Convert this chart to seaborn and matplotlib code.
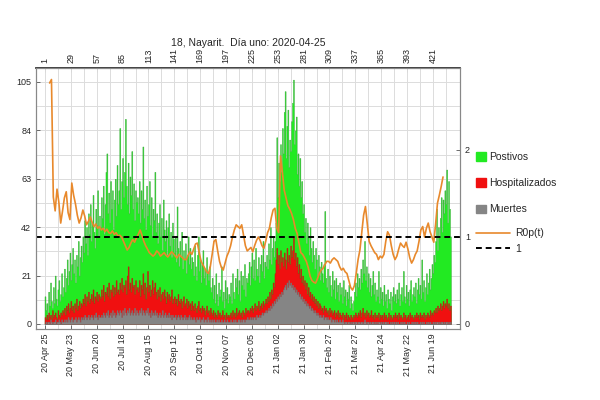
import numpy as np
import pandas as pd
import seaborn as sns
import matplotlib.pyplot as plt
from matplotlib.patches import Patch
from matplotlib.lines import Line2D

sns.set_theme(style="ticks")
plt.rcParams['font.family'] = ['Liberation Sans', 'DejaVu Sans']

title = "18, Nayarit.  Día uno: 2020-04-25"

# casos diarios (dia 1 = 2020-04-25)
positivos = [
    12, 6, 9, 4, 14, 8, 18, 10, 7, 16, 9, 21, 11, 8, 15, 19, 10, 13, 22, 12,
    16, 24, 14, 20, 28, 17, 23, 31, 19, 26, 33, 22, 28, 18, 30, 25, 36, 21, 29, 34,
    27, 38, 31, 45, 35, 42, 30, 48, 39, 52, 36, 44, 56, 40, 33, 50, 43, 58, 38, 47,
    42, 55, 46, 60, 39, 52, 66, 74, 48, 57, 44, 62, 50, 58, 41, 54, 63, 47, 69, 52,
    58, 85, 50, 62, 72, 55, 66, 89, 60, 52, 70, 48, 64, 56, 75, 50, 61, 45, 58, 53,
    55, 48, 62, 44, 58, 50, 77, 46, 54, 41, 60, 47, 52, 62, 43, 55, 38, 50, 45, 66,
    40, 48, 35, 44, 52, 38, 46, 32, 54, 41, 36, 45, 30, 42, 48, 34, 40, 29, 44, 37,
    31, 38, 27, 51, 33, 25, 36, 29, 40, 24, 32, 28, 35, 22, 30, 38, 26, 33, 24, 29,
    27, 21, 34, 25, 19, 30, 38, 23, 28, 18, 26, 32, 20, 24, 17, 29, 22, 19, 25, 16,
    14, 20, 11, 17, 9, 22, 13, 8, 18, 12, 15, 25, 10, 14, 7, 19, 11, 16, 9, 13,
    12, 18, 9, 22, 14, 11, 20, 16, 24, 13, 19, 10, 23, 17, 21, 15, 26, 12, 20, 18,
    22, 27, 17, 25, 31, 20, 28, 19, 33, 24, 21, 29, 18, 26, 30, 23, 36, 20, 27, 25,
    30, 24, 35, 28, 42, 26, 33, 38, 29, 36, 44, 81, 55, 70, 62, 78, 66, 85, 74, 92,
    101, 72, 86, 93, 68, 80, 75, 88, 96, 106, 78, 84, 90, 65, 74, 60, 72, 55, 62, 48,
    52, 40, 46, 35, 44, 38, 30, 42, 33, 27, 36, 30, 24, 33, 28, 21, 30, 25, 19, 27,
    22, 18, 26, 49, 20, 16, 24, 14, 21, 17, 12, 23, 15, 19, 11, 20, 14, 17, 10, 18,
    13, 16, 9, 19, 12, 15, 8, 14, 11, 17, 7, 12, 9, 6, 10, 14, 18, 12, 22, 16,
    20, 15, 24, 18, 28, 22, 36, 19, 25, 16, 22, 14, 20, 12, 17, 23, 13, 18, 10, 15,
    12, 23, 9, 16, 11, 14, 8, 17, 10, 13, 7, 15, 11, 9, 14, 6, 12, 16, 10, 13,
    9, 15, 11, 18, 8, 13, 16, 10, 23, 12, 9, 17, 11, 14, 8, 15, 19, 10, 13, 16,
    12, 18, 9, 15, 20, 13, 17, 11, 28, 14, 19, 10, 16, 22, 13, 18, 24, 15, 20, 26,
    22, 30, 27, 36, 50, 32, 42, 38, 46, 55, 40, 54, 48, 58, 52, 67, 44, 62, 50, 38,
]
hospitalizados = [
    3, 2, 4, 2, 5, 3, 4, 2, 6, 3, 4, 5, 3, 2, 6, 4, 3, 5, 4, 6,
    5, 7, 4, 8, 6, 9, 5, 7, 10, 6, 8, 5, 9, 7, 11, 6, 8, 10, 7, 9,
    8, 11, 9, 13, 8, 12, 10, 14, 9, 11, 13, 10, 15, 9, 12, 11, 14, 10, 13, 12,
    11, 15, 12, 17, 10, 14, 13, 16, 12, 18, 11, 15, 14, 17, 12, 16, 13, 19, 14, 15,
    13, 18, 15, 20, 14, 17, 16, 19, 13, 21, 25, 15, 18, 14, 20, 16, 17, 13, 19, 15,
    16, 14, 19, 12, 17, 15, 22, 13, 18, 11, 16, 23, 14, 17, 12, 15, 19, 13, 16, 18,
    14, 11, 15, 12, 16, 10, 13, 14, 11, 15, 12, 9, 14, 11, 13, 10, 12, 15, 9, 11,
    12, 9, 11, 8, 13, 10, 9, 11, 7, 10, 12, 8, 9, 11, 7, 10, 8, 9, 6, 10,
    8, 6, 9, 7, 5, 8, 10, 6, 7, 5, 8, 6, 7, 4, 6, 8, 5, 6, 4, 7,
    5, 4, 6, 3, 5, 4, 3, 6, 4, 5, 3, 4, 6, 3, 4, 2, 5, 3, 4, 3,
    4, 5, 3, 6, 4, 5, 3, 7, 4, 5, 6, 4, 5, 3, 6, 5, 4, 7, 5, 6,
    6, 5, 7, 6, 8, 5, 7, 9, 6, 8, 7, 10, 6, 8, 9, 7, 10, 8, 9, 11,
    9, 12, 10, 14, 11, 15, 13, 18, 16, 22, 28, 33, 26, 30, 24, 32, 27, 29, 25, 31,
    28, 24, 33, 27, 30, 26, 34, 29, 32, 38, 28, 31, 25, 29, 22, 26, 20, 24, 18, 21,
    17, 19, 15, 18, 13, 16, 12, 14, 11, 13, 10, 12, 9, 11, 8, 10, 7, 9, 8, 6,
    7, 5, 8, 6, 7, 5, 6, 4, 7, 5, 6, 4, 5, 6, 3, 5, 4, 6, 3, 5,
    4, 3, 5, 2, 4, 3, 5, 2, 4, 3, 2, 4, 3, 2, 4, 3, 5, 4, 3, 5,
    4, 6, 3, 5, 7, 4, 5, 3, 6, 4, 5, 3, 4, 6, 3, 4, 2, 5, 3, 4,
    3, 5, 2, 4, 3, 4, 2, 5, 3, 4, 2, 3, 5, 2, 4, 3, 2, 4, 3, 5,
    3, 4, 2, 5, 3, 4, 3, 2, 5, 3, 4, 2, 3, 4, 2, 5, 3, 4, 3, 2,
    4, 3, 5, 3, 4, 2, 5, 3, 4, 3, 5, 2, 4, 3, 5, 4, 3, 6, 4, 5,
    4, 6, 5, 7, 5, 8, 6, 7, 9, 6, 8, 10, 7, 9, 8, 11, 7, 9, 6, 8,
]
muertes = [
    0, 1, 0, 1, 1, 0, 2, 1, 0, 1, 1, 2, 0, 1, 1, 2, 1, 0, 2, 1,
    1, 2, 1, 2, 1, 3, 2, 1, 2, 3, 1, 2, 2, 3, 1, 2, 3, 2, 1, 3,
    2, 3, 2, 4, 3, 2, 3, 4, 2, 3, 4, 3, 2, 4, 3, 5, 3, 2, 4, 3,
    3, 4, 3, 5, 4, 3, 5, 4, 6, 3, 4, 5, 3, 6, 4, 5, 3, 4, 6, 5,
    4, 6, 5, 3, 6, 4, 7, 5, 4, 6, 5, 7, 4, 5, 6, 4, 5, 7, 4, 6,
    5, 4, 6, 5, 7, 4, 6, 5, 4, 6, 5, 7, 4, 5, 3, 6, 4, 5, 4, 6,
    4, 5, 3, 4, 5, 3, 4, 6, 3, 4, 5, 3, 4, 3, 5, 3, 4, 2, 4, 3,
    3, 4, 2, 3, 4, 3, 2, 4, 3, 2, 3, 4, 2, 3, 2, 3, 4, 2, 3, 2,
    2, 3, 2, 1, 3, 2, 2, 3, 1, 2, 2, 3, 1, 2, 2, 1, 3, 2, 1, 2,
    1, 2, 1, 2, 1, 1, 2, 1, 2, 1, 1, 2, 1, 1, 2, 1, 1, 2, 1, 1,
    1, 2, 1, 1, 2, 1, 2, 1, 1, 2, 2, 1, 2, 1, 2, 2, 1, 2, 2, 3,
    2, 2, 3, 2, 3, 2, 3, 3, 2, 4, 3, 3, 4, 3, 4, 5, 4, 5, 5, 6,
    5, 6, 7, 6, 8, 7, 9, 8, 10, 9, 11, 10, 12, 11, 13, 12, 14, 13, 15, 16,
    17, 15, 18, 16, 19, 17, 18, 16, 17, 15, 16, 14, 15, 13, 14, 12, 13, 11, 12, 10,
    11, 9, 10, 8, 9, 8, 7, 8, 6, 7, 6, 5, 6, 5, 4, 5, 4, 3, 4, 3,
    3, 4, 2, 3, 3, 2, 3, 2, 2, 3, 1, 2, 2, 1, 2, 1, 2, 1, 1, 2,
    1, 1, 2, 1, 0, 1, 1, 0, 1, 1, 0, 1, 0, 1, 1, 0, 1, 1, 0, 1,
    1, 0, 1, 1, 0, 1, 2, 1, 0, 1, 1, 0, 1, 0, 1, 1, 0, 1, 0, 1,
    0, 1, 1, 0, 1, 0, 1, 0, 1, 1, 0, 1, 0, 0, 1, 0, 1, 0, 1, 0,
    1, 0, 1, 0, 0, 1, 0, 1, 0, 1, 0, 0, 1, 0, 1, 0, 0, 1, 0, 1,
    0, 1, 0, 1, 0, 0, 1, 0, 1, 0, 1, 0, 0, 1, 0, 1, 0, 1, 0, 0,
    1, 0, 1, 0, 1, 1, 0, 1, 0, 1, 1, 0, 1, 0, 1, 1, 0, 1, 0, 1,
]

# R0p(t), un valor cada 2 dias desde el dia 6
r0p = [
    2.77, 2.81, 1.46, 1.30, 1.55, 1.40, 1.16, 1.30, 1.45, 1.52,
    1.28, 1.20, 1.62, 1.48, 1.38, 1.25, 1.16, 1.22, 1.31, 1.24,
    1.14, 1.18, 1.23, 1.17, 1.12, 1.15, 1.10, 1.12, 1.08, 1.10,
    1.06, 1.09, 1.05, 1.04, 1.07, 1.03, 1.05, 1.01, 1.02, 1.00,
    0.95, 0.90, 0.85, 0.88, 0.93, 0.97, 0.94, 0.99, 1.03, 1.08,
    1.02, 0.95, 0.90, 0.86, 0.82, 0.80, 0.78, 0.80, 0.84, 0.82,
    0.78, 0.80, 0.82, 0.79, 0.77, 0.80, 0.83, 0.81, 0.78, 0.76,
    0.80, 0.78, 0.76, 0.74, 0.74, 0.79, 0.83, 0.80, 0.86, 0.92,
    0.93, 0.82, 0.72, 0.68, 0.64, 0.60, 0.58, 0.66, 0.80, 0.95,
    0.97, 0.84, 0.72, 0.65, 0.62, 0.70, 0.78, 0.83, 0.90, 1.00,
    1.08, 1.14, 1.12, 1.10, 1.14, 1.02, 0.90, 0.84, 0.86, 0.88,
    0.83, 0.90, 0.96, 1.00, 0.96, 0.90, 0.87, 0.95, 1.05, 1.10,
    1.22, 1.31, 1.33, 1.10, 1.05, 1.93, 1.75, 1.54, 1.45, 1.36,
    1.32, 1.27, 1.20, 1.10, 1.04, 0.93, 0.82, 0.80, 0.76, 0.72,
    0.65, 0.55, 0.50, 0.48, 0.47, 0.52, 0.58, 0.62, 0.64, 0.68,
    0.72, 0.72, 0.70, 0.74, 0.76, 0.74, 0.72, 0.66, 0.62, 0.64,
    0.60, 0.58, 0.50, 0.42, 0.39, 0.44, 0.58, 0.74, 0.85, 1.05,
    1.25, 1.35, 1.15, 0.95, 0.90, 0.86, 0.82, 0.80, 0.74, 0.78,
    0.76, 0.80, 0.95, 1.06, 1.02, 0.90, 0.80, 0.74, 0.78, 0.86,
    0.93, 0.90, 0.88, 0.94, 0.86, 0.76, 0.70, 0.74, 0.80, 0.84,
    0.95, 1.08, 1.12, 1.00, 1.10, 1.16, 1.06, 1.00, 0.94, 1.15,
    1.39, 1.48, 1.58, 1.69,
]

top_ticks = [1, 29, 57, 85, 113, 141, 169, 197, 225, 253, 281, 309, 337, 365, 393, 421]
date_labels = ["20 Apr 25", "20 May 23", "20 Jun 20", "20 Jul 18", "20 Aug 15",
               "20 Sep 12", "20 Oct 10", "20 Nov 07", "20 Dec 05", "21 Jan 02",
               "21 Jan 30", "21 Feb 27", "21 Mar 27", "21 Apr 24", "21 May 22",
               "21 Jun 19"]
left_ticks = [0, 21, 42, 63, 84, 105]

n = len(positivos)
df = pd.DataFrame({"dia": np.arange(1, n + 1), "Postivos": positivos,
                   "Hospitalizados": hospitalizados, "Muertes": muertes})
df_r = pd.DataFrame({"dia": 6 + 2 * np.arange(len(r0p)), "r0p": r0p})

c_pos, c_hos, c_mue, c_r0 = "#22ea22", "#f01010", "#858585", "#e8892c"

fig = plt.figure(figsize=(6, 4), dpi=100)
ax = fig.add_axes([0.06, 0.1775, 0.707, 0.6525])

for col, c, ec in [("Postivos", c_pos, "#3aa83a"), ("Hospitalizados", c_hos, "#b02010"),
                   ("Muertes", c_mue, "#707070")]:
    sns.histplot(data=df, x="dia", weights=col, discrete=True, element="step",
                 fill=True, color=c, alpha=1, edgecolor=ec, linewidth=0.35, ax=ax)

ax.set_xlim(-8.75, 450.6)
ax.set_ylim(-2.17, 111.07)
ax.set_yticks(left_ticks)
ax.set_yticks(np.arange(10.5, 111, 21), minor=True)
ax.set_xticks(top_ticks)
ax.set_xticks(np.array(top_ticks) + 14, minor=True)
ax.set_xticklabels(date_labels, rotation=90)
ax.set_xlabel("")
ax.set_ylabel("")
ax.set_axisbelow(True)
ax.grid(which="both", color="#dcdcdc", linewidth=0.7)
ax.tick_params(which="major", direction="in", length=3, labelsize=6.5, width=0.6, color="#555555")
ax.tick_params(which="minor", length=0)

top = ax.secondary_xaxis("top")
top.set_xticks(top_ticks)
top.set_xticklabels([str(t) for t in top_ticks], rotation=90)
top.tick_params(direction="in", length=3, labelsize=6.5, width=0.6, color="#555555")

ax2 = ax.twinx()
sns.lineplot(data=df_r, x="dia", y="r0p", color=c_r0, linewidth=1.2, ax=ax2)
ax2.axhline(1, color="black", linestyle=(0, (3, 2)), linewidth=1.4)
ax2.set_ylim(-2.17 / 37.75, 111.07 / 37.75)
ax2.set_yticks([0, 1, 2])
ax2.set_xlabel("")
ax2.set_ylabel("")
ax2.tick_params(direction="in", length=3, labelsize=6.5, width=0.6, color="#555555")

for a in (ax, ax2):
    for s in a.spines.values():
        s.set_color("#888888")
        s.set_linewidth(0.8)

ax.set_title(title, fontsize=7.5, pad=16)

leg1 = fig.legend(handles=[Patch(color=c_pos, label="Postivos"),
                           Patch(color=c_hos, label="Hospitalizados"),
                           Patch(color=c_mue, label="Muertes")],
                  loc="upper left", bbox_to_anchor=(0.787, 0.63), frameon=False,
                  fontsize=7.5, handlelength=0.9, handleheight=0.9,
                  handletextpad=0.35, labelspacing=1.55, borderaxespad=0)
leg2 = fig.legend(handles=[Line2D([], [], color=c_r0, linewidth=1.2, label="R0p(t)"),
                           Line2D([], [], color="black", linestyle=(0, (3, 2)),
                                  linewidth=1.4, label="1")],
                  loc="upper left", bbox_to_anchor=(0.787, 0.44), frameon=False,
                  fontsize=7.5, handlelength=3.2, handletextpad=0.5,
                  labelspacing=0.55, borderaxespad=0)

fig.savefig("out.png", dpi=100)
